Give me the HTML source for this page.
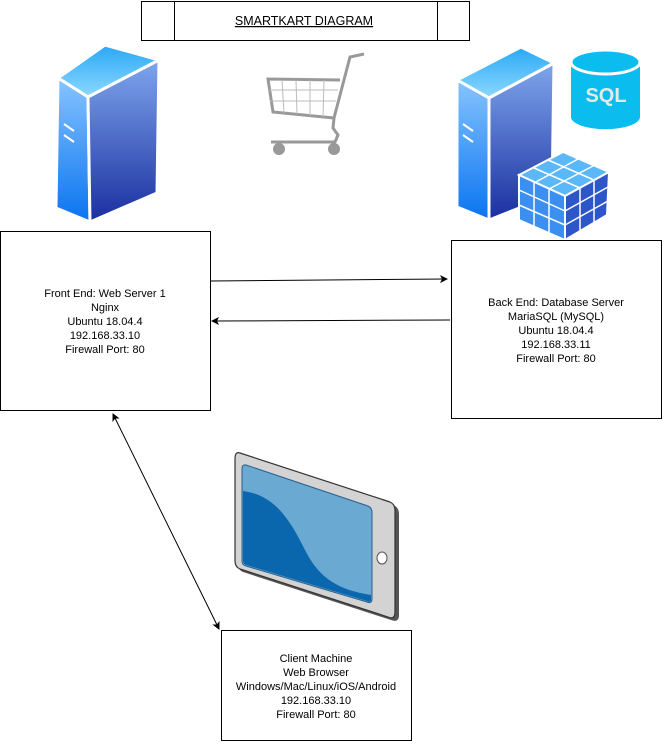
<!DOCTYPE html>
<html><head><style>
body{margin:0;background:#fff;}
svg{display:block;font-family:"Liberation Sans",Arial,sans-serif;}
</style></head><body>
<svg width="672" height="752" viewBox="0 0 672 752" xmlns="http://www.w3.org/2000/svg">
<defs>
<linearGradient id="gf" x1="0" y1="0" x2="0" y2="1"><stop offset="0" stop-color="#7fa6ec"/><stop offset="1" stop-color="#1a2fa0"/></linearGradient>
<linearGradient id="gs" x1="0" y1="0" x2="0" y2="1"><stop offset="0" stop-color="#86c4ff"/><stop offset="1" stop-color="#0a74f0"/></linearGradient>
<linearGradient id="gt" x1="0" y1="0" x2="0" y2="1"><stop offset="0" stop-color="#2aa8f5"/><stop offset="1" stop-color="#8cd8ff"/></linearGradient>
<marker id="ah" markerWidth="8" markerHeight="8" refX="7" refY="4" orient="auto" markerUnits="userSpaceOnUse"><path d="M0,0 L8,4 L0,8 L2,4 z" fill="#000"/></marker>
<marker id="as" markerWidth="8" markerHeight="8" refX="1" refY="4" orient="auto" markerUnits="userSpaceOnUse"><path d="M8,0 L0,4 L8,8 L6,4 z" fill="#000"/></marker>
</defs>
<!-- title -->
<rect x="141.5" y="1.5" width="328" height="39" fill="#fff" stroke="#000"/>
<line x1="174.5" y1="1" x2="174.5" y2="40" stroke="#000"/>
<line x1="437.5" y1="1" x2="437.5" y2="40" stroke="#000"/>
<text x="304" y="25" font-size="12.5" text-anchor="middle" text-decoration="underline">SMARTKART DIAGRAM </text>
<!-- left server -->
<g stroke="#fff" stroke-width="3" stroke-linejoin="round">
<polygon points="58,78 105,45 159,60 88,97" fill="url(#gt)"/>
<polygon points="58,78 88,97 90,222 56,208" fill="url(#gs)"/>
<polygon points="88,97 159,60 157,193 90,222" fill="url(#gf)"/>
</g>
<line x1="64" y1="124" x2="74" y2="131" stroke="#fff" stroke-width="2"/>
<line x1="64" y1="135" x2="74" y2="142" stroke="#fff" stroke-width="2"/>
<!-- right server -->
<g stroke="#fff" stroke-width="3" stroke-linejoin="round">
<polygon points="457,80 521,47 554,63 489,98" fill="url(#gt)"/>
<polygon points="457,80 489,98 489,220 457,207" fill="url(#gs)"/>
<polygon points="489,98 554,63 552,195 489,220" fill="url(#gf)"/>
</g>
<line x1="463" y1="124" x2="473" y2="131" stroke="#fff" stroke-width="2"/>
<line x1="463" y1="135" x2="473" y2="142" stroke="#fff" stroke-width="2"/>
<!-- SQL -->
<path d="M571,62 v55 a34,12 0 0 0 69,0 v-55 z" fill="#0bbcee"/>
<ellipse cx="605.5" cy="62" rx="34.5" ry="12" fill="#0bbcee" stroke="#fff" stroke-width="3"/>
<text x="606" y="102" font-size="20" font-weight="bold" fill="#e8e8e8" text-anchor="middle">SQL</text>
<!-- cube -->
<g stroke="#fff" stroke-width="2">
<polygon points="519,175 563,152 609,172 565,196" fill="#5ab8f8"/>
<polygon points="519,175 565,196 565,240 519,220" fill="#3b8ff0"/>
<polygon points="565,196 609,172 607,215 565,240" fill="#2d57c8"/>
</g>
<g stroke="#fff" stroke-width="1.5">
<line x1="534" y1="168" x2="580" y2="188"/><line x1="548" y1="160" x2="594" y2="180"/>
<line x1="534" y1="183" x2="578" y2="159"/><line x1="549" y1="189" x2="593" y2="166"/>
<line x1="534" y1="182" x2="534" y2="227"/><line x1="549" y1="189" x2="549" y2="233"/>
<line x1="519" y1="190" x2="565" y2="211"/><line x1="519" y1="205" x2="565" y2="225"/>
<line x1="580" y1="188" x2="580" y2="232"/><line x1="594" y1="180" x2="594" y2="223"/>
<line x1="565" y1="211" x2="608" y2="187"/><line x1="565" y1="225" x2="608" y2="201"/>
</g>
<!-- cart -->
<g stroke="#999" fill="none" stroke-width="3">
<path d="M364,54 L350,57 L334,118 L273,112 L268,79 L340,80"/>
<path d="M334,118 L333,128 L338,135 L335,142 L271,142"/>
</g>
<g stroke="#bbb" stroke-width="1" fill="none">
<line x1="269" y1="90" x2="338" y2="90"/><line x1="270" y1="101" x2="336" y2="101"/>
<line x1="282" y1="80" x2="284" y2="113"/><line x1="296" y1="80" x2="297" y2="114"/><line x1="310" y1="80" x2="310" y2="116"/><line x1="324" y1="80" x2="323" y2="117"/>
</g>
<circle cx="279" cy="149" r="6" fill="#999"/><circle cx="334" cy="149" r="6" fill="#999"/>
<!-- boxes -->
<rect x="0.5" y="231.5" width="210" height="179" fill="#fff" stroke="#000"/>
<text font-size="11" text-anchor="middle"><tspan x="105" y="297">Front End: Web Server 1</tspan><tspan x="105" y="311">Nginx</tspan><tspan x="105" y="325">Ubuntu 18.04.4</tspan><tspan x="105" y="339">192.168.33.10</tspan><tspan x="105" y="353">Firewall Port: 80</tspan></text>
<rect x="451.5" y="240.5" width="210" height="178" fill="#fff" stroke="#000"/>
<text font-size="11" text-anchor="middle"><tspan x="556" y="306">Back End: Database Server</tspan><tspan x="556" y="320">MariaSQL (MySQL)</tspan><tspan x="556" y="334">Ubuntu 18.04.4</tspan><tspan x="556" y="348">192.168.33.11</tspan><tspan x="556" y="362">Firewall Port: 80</tspan></text>
<rect x="221.5" y="630.5" width="190" height="110" fill="#fff" stroke="#000"/>
<text font-size="11" text-anchor="middle"><tspan x="316" y="662">Client Machine</tspan><tspan x="316" y="676">Web Browser</tspan><tspan x="316" y="690">Windows/Mac/Linux/iOS/Android</tspan><tspan x="316" y="704">192.168.33.10</tspan><tspan x="316" y="718">Firewall Port: 80</tspan></text>
<!-- arrows -->
<line x1="211" y1="281" x2="447" y2="279" stroke="#000" marker-end="url(#ah)"/>
<line x1="450" y1="320" x2="212" y2="321" stroke="#000" marker-end="url(#ah)"/>
<line x1="113" y1="414" x2="219" y2="629" stroke="#000" marker-start="url(#as)" marker-end="url(#ah)"/>
<!-- tablet -->
<path d="M243,456 L393,505 Q399,507 399,514 L399,615 Q399,623 391,620 L243,572 Q238,570 238,564 L238,462 Q238,454 243,456 Z" fill="#555"/>
<path d="M240,453 L390,502 Q395,504 395,511 L395,612 Q395,620 388,617 L240,569 Q235,567 235,561 L235,459 Q235,451 240,453 Z" fill="#d3d3d3" stroke="#333" stroke-width="1.2"/>
<path d="M246,465 L368,506 Q372,508 372,512 L372,599 Q372,604 367,602 L246,566 Q242,565 242,561 L242,469 Q242,464 246,465 Z" fill="#6aa9d2" stroke="#2a5f8a" stroke-width="1"/>
<path d="M243,491 C275,495 290,520 305,550 C320,580 340,590 371,595 L371,600 Q371,603 367,601 L246,565 Q243,564 243,560 Z" fill="#0a67ad"/>
<ellipse cx="382" cy="558" rx="5" ry="6" fill="#fff" stroke="#555"/>
</svg>
</body></html>
